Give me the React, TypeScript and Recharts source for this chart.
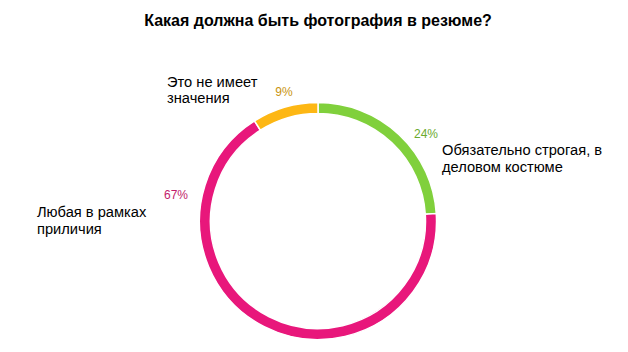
import { PieChart, Pie, Cell } from "recharts";

const categories = [
  "Обязательно строгая, в деловом костюме",
  "Любая в рамках приличия",
  "Это не имеет значения",
];
const shares = [24, 67, 9];
const labelLines = [
  ["Обязательно строгая, в", "деловом костюме"],
  ["Любая в рамках", "приличия"],
  ["Это не имеет", "значения"],
];

const sliceColors = ["#80D03C", "#E8177B", "#FDB714"];
const pctColors = ["#6AAA2E", "#C21D6C", "#C99410"];

// label placement relative to the pie centre
const labelLayout = [
  { pdx: 108, pdy: -83, tdx: 124, tdy: -66 },
  { pdx: -142, pdy: -22, tdx: -281, tdy: -4 },
  { pdx: -34, pdy: -125, tdx: -151, tdy: -134.5 },
];

const data = categories.map((name, i) => ({ name, value: shares[i] }));

const FONT = "'Liberation Sans', Arial, sans-serif";

const renderLabel = (props: any) => {
  const { cx, cy, index } = props;
  const l = labelLayout[index];
  return (
    <g key={`lbl-${index}`}>
      <text
        x={cx + l.pdx}
        y={cy + l.pdy}
        textAnchor="middle"
        fill={pctColors[index]}
        fontSize={12}
        fontFamily={FONT}
      >
        {shares[index]}%
      </text>
      {labelLines[index].map((line, j) => (
        <text
          key={j}
          x={cx + l.tdx}
          y={cy + l.tdy + j * 16.5}
          textAnchor="start"
          fill="#000"
          fontSize={14.67}
          fontFamily={FONT}
        >
          {line}
        </text>
      ))}
    </g>
  );
};

export default function App() {
  return (
    <div style={{ position: "absolute", left: 0, top: 0, width: 628, height: 352, background: "#fff" }}>
      <PieChart width={628} height={352} margin={{ top: 0, right: 0, bottom: 0, left: 0 }}>
        <text
          x={318}
          y={26}
          textAnchor="middle"
          fontSize={16}
          fontWeight="bold"
          fontFamily={FONT}
          fill="#000"
        >
          Какая должна быть фотография в резюме?
        </text>
        <Pie
          data={data}
          dataKey="value"
          nameKey="name"
          cx={318}
          cy={221}
          outerRadius={118.5}
          innerRadius={107.5}
          startAngle={90}
          endAngle={-270}
          stroke="#fff"
          strokeWidth={1.5}
          label={renderLabel}
          labelLine={false}
          isAnimationActive={false}
        >
          {data.map((d, i) => (
            <Cell key={d.name} fill={sliceColors[i]} />
          ))}
        </Pie>
      </PieChart>
    </div>
  );
}
